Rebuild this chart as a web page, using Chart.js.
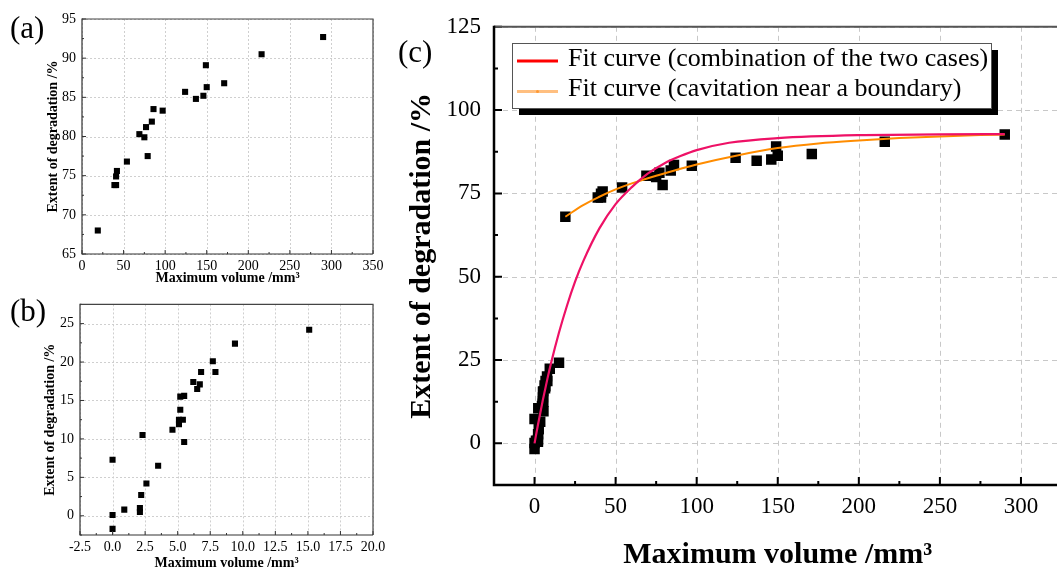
<!DOCTYPE html>
<html><head><meta charset="utf-8">
<script src="https://cdn.jsdelivr.net/npm/chart.js@4.4.0/dist/chart.umd.min.js"></script>
<style>
html,body{margin:0;padding:0;background:#fff;overflow:hidden;width:1057px;height:568px;position:relative}
.cv{position:absolute}
.lab{position:absolute;font-family:"Liberation Serif","Times New Roman",serif;font-size:31px;color:#000;line-height:1}
</style></head><body>
<div class="cv" style="left:0;top:0;width:390px;height:290px"><canvas id="ca"></canvas></div>
<div class="cv" style="left:0;top:290px;width:390px;height:290px"><canvas id="cb"></canvas></div>
<div class="cv" style="left:390px;top:0;width:680px;height:580px"><canvas id="cc"></canvas></div>
<div class="lab" style="left:10px;top:12px">(a)</div>
<div class="lab" style="left:10px;top:295px">(b)</div>
<div class="lab" style="left:398px;top:36px">(c)</div>
<script>
// ---------- data ----------
// (a) cavitation near a boundary
const aX = [19, 39, 41, 41, 42, 54, 69, 75, 77, 79, 84, 86, 97, 124, 137, 146, 149, 150, 171, 216, 290];
const aY = [68.0, 73.8, 73.8, 74.9, 75.6, 76.8, 80.3, 79.9, 81.2, 77.5, 81.9, 83.5, 83.3, 85.7, 84.8, 85.2, 89.1, 86.3, 86.8, 90.5, 92.7];
// (b) small volumes
const bX = [0.0, 0.0, 0.0, 0.9, 2.1, 2.1, 2.2, 2.3, 2.6, 3.5, 4.6, 5.1, 5.1, 5.4, 5.2, 5.2, 5.5, 5.5, 6.2, 6.7, 6.5, 6.8, 7.7, 7.9, 9.4, 15.1];
const bY = [-1.7, 0.1, 7.3, 0.8, 0.5, 1.0, 2.7, 10.5, 4.2, 6.5, 11.2, 11.9, 12.5, 12.5, 13.8, 15.5, 15.6, 9.6, 17.4, 17.1, 16.5, 18.7, 20.1, 18.7, 22.4, 24.2];
// (c) fit curves
const fitAllX = [0, 2, 5, 8, 10, 15, 20, 25, 30, 40, 50, 60, 70, 80, 90, 100, 120, 150, 200, 250, 290];
const fitAllY = [0, 5.3, 12.7, 19.5, 23.7, 33.1, 41.3, 48.5, 54.6, 64.5, 71.8, 76.9, 81.0, 84.0, 86.2, 88.0, 90.2, 91.6, 92.5, 92.7, 92.8];
const fitBndX = [19, 30, 40, 50, 60, 75, 90, 100, 125, 150, 175, 200, 225, 250, 275, 290];
const fitBndY = [68.0, 71.5, 74.0, 76.2, 78.0, 80.3, 82.4, 83.7, 86.4, 88.6, 90.0, 90.9, 91.6, 92.1, 92.5, 92.7];
const fitLabels = ['Fit curve (combination of the two cases)', 'Fit curve (cavitation near a boundary)'];
// tick labels
const aXTicks = [0, 50, 100, 150, 200, 250, 300, 350];
const aYTicks = [65, 70, 75, 80, 85, 90, 95];
const bXTicks = [-2.5, 0, 2.5, 5, 7.5, 10, 12.5, 15, 17.5, 20];
const bYTicks = [0, 5, 10, 15, 20, 25];
const cXTicks = [0, 50, 100, 150, 200, 250, 300];
const cYTicks = [0, 25, 50, 75, 100, 125];
const xTitle = 'Maximum volume /mm³';
const yTitle = 'Extent of degradation /%';

const FF = '"Liberation Serif","Times New Roman",serif';
const pts = (xs, ys) => xs.map((x, i) => ({x: x, y: ys[i]}));

// ---------- decoration plugin (grid, inward ticks, frame, legend) ----------
const deco = {
  id: 'deco',
  beforeDatasetsDraw(chart, args, o) {
    const {ctx, chartArea: a, scales: {x, y}} = chart;
    ctx.save();
    ctx.strokeStyle = o.gridColor; ctx.lineWidth = 1; ctx.setLineDash(o.gridDash);
    ctx.beginPath();
    o.xGrid.forEach(v => { const p = Math.round(x.getPixelForValue(v)) + 0.5; ctx.moveTo(p, a.top); ctx.lineTo(p, a.bottom); });
    o.yGrid.forEach(v => { const p = Math.round(y.getPixelForValue(v)) + 0.5; ctx.moveTo(a.left, p); ctx.lineTo(a.right, p); });
    ctx.stroke();
    ctx.restore();
  },
  afterDatasetsDraw(chart, args, o) {
    const {ctx, chartArea: a, scales: {x, y}} = chart;
    ctx.save();
    // ticks (inward)
    ctx.strokeStyle = o.tickColor; ctx.lineWidth = o.tickWidth; ctx.setLineDash([]);
    ctx.beginPath();
    for (let v = x.min; v <= x.max + 1e-9; v += o.xMinor) {
      const major = o.xGrid.some(g => Math.abs(g - v) < 1e-6);
      const p = x.getPixelForValue(v);
      ctx.moveTo(p, a.bottom); ctx.lineTo(p, a.bottom - (major ? o.majorLen : o.minorLen));
    }
    for (let v = y.min; v <= y.max + 1e-9; v += o.yMinor) {
      const major = o.yGrid.some(g => Math.abs(g - v) < 1e-6);
      const p = y.getPixelForValue(v);
      ctx.moveTo(a.left, p); ctx.lineTo(a.left + (major ? o.majorLen : o.minorLen), p);
    }
    ctx.stroke();
    // frame
    ctx.lineWidth = o.sideWidth; ctx.strokeStyle = o.sideColor;
    ctx.beginPath(); ctx.moveTo(a.left, a.top); ctx.lineTo(a.right, a.top); ctx.lineTo(a.right, a.bottom); ctx.stroke();
    ctx.lineWidth = o.axisWidth; ctx.strokeStyle = o.axisColor;
    ctx.beginPath(); ctx.moveTo(a.left, a.top - o.sideWidth / 2); ctx.lineTo(a.left, a.bottom); ctx.lineTo(a.right, a.bottom); ctx.stroke();
    // legend
    if (o.legend) {
      const L = o.legend;
      ctx.fillStyle = '#000';
      ctx.fillRect(L.x + L.shadow, L.y + L.shadow, L.w, L.h);
      ctx.fillStyle = '#fff';
      ctx.fillRect(L.x, L.y, L.w, L.h);
      ctx.strokeStyle = '#555'; ctx.lineWidth = 1;
      ctx.strokeRect(L.x + 0.5, L.y + 0.5, L.w, L.h);
      ctx.font = L.fontSize + 'px ' + FF;
      ctx.textBaseline = 'middle'; ctx.textAlign = 'left';
      L.items.forEach((it, i) => {
        const ds = chart.data.datasets[it.ds];
        ctx.strokeStyle = it.color; ctx.lineWidth = 3;
        ctx.beginPath(); ctx.moveTo(L.x + 5, it.ly); ctx.lineTo(L.x + 46, it.ly); ctx.stroke();
        if (it.dot) { ctx.fillStyle = it.dot; ctx.beginPath(); ctx.arc(L.x + 25.5, it.ly, 1.5, 0, Math.PI * 2); ctx.fill(); }
        ctx.fillStyle = '#000';
        ctx.fillText(ds.label, L.x + 56, it.ty);
      });
    }
    ctx.restore();
  }
};

function baseScales(cfg) {
  const setTicks = arr => s => { s.ticks = arr.map(v => ({value: v})); };
  return {
    x: {
      type: 'linear', min: cfg.xMin, max: cfg.xMax,
      afterBuildTicks: setTicks(cfg.xTicks),
      afterFit: s => { s.height = cfg.xH; },
      grid: {display: false, drawTicks: false}, border: {display: false},
      ticks: {font: {family: FF, size: cfg.tickSize}, color: '#000', padding: cfg.xPad, maxRotation: 0, autoSkip: false,
        callback: cfg.xFmt || (v => String(v))},
      title: {display: true, text: xTitle, color: '#000', font: {family: FF, size: cfg.xTitleSize, weight: 'bold'}, padding: {top: 0, bottom: cfg.xTitlePad}}
    },
    y: {
      type: 'linear', min: cfg.yMin, max: cfg.yMax,
      afterBuildTicks: setTicks(cfg.yTicks),
      afterFit: s => { s.width = cfg.yW; },
      grid: {display: false, drawTicks: false}, border: {display: false},
      ticks: {font: {family: FF, size: cfg.tickSize}, color: '#000', padding: cfg.yPad, autoSkip: false},
      title: {display: true, text: yTitle, color: '#000', font: {family: FF, size: cfg.yTitleSize, weight: 'bold'}, padding: {top: cfg.yTitlePad, bottom: 0}}
    }
  };
}

const common = {responsive: true, maintainAspectRatio: false, animation: false, events: []};

// (a)
new Chart(document.getElementById('ca'), {
  type: 'scatter',
  data: {datasets: [{data: pts(aX, aY), pointStyle: 'rect', pointRadius: 4.3, backgroundColor: '#000', borderWidth: 0}]},
  options: Object.assign({}, common, {
    layout: {padding: {left: 0, top: 19, right: 17, bottom: 0}},
    plugins: {legend: {display: false}, tooltip: {enabled: false},
      deco: {gridColor: '#cfcfcf', gridDash: [2, 2], xGrid: aXTicks, yGrid: aYTicks, xMinor: 25, yMinor: 2.5,
        majorLen: 4, minorLen: 2, tickColor: '#333', tickWidth: 1, sideColor: '#444', sideWidth: 1.2, axisColor: '#333', axisWidth: 1.2}},
    scales: baseScales({xMin: 0, xMax: 350, yMin: 65, yMax: 95, xTicks: aXTicks, yTicks: aYTicks, xH: 36, yW: 82,
      tickSize: 14, xTitleSize: 14, yTitleSize: 14, xPad: 4, yPad: 6, xTitlePad: 3.5, yTitlePad: 44.5})
  }),
  plugins: [deco]
});

// (b)
new Chart(document.getElementById('cb'), {
  type: 'scatter',
  data: {datasets: [{data: pts(bX, bY), pointStyle: 'rect', pointRadius: 4.3, backgroundColor: '#000', borderWidth: 0}]},
  options: Object.assign({}, common, {
    layout: {padding: {left: 0, top: 9, right: 17, bottom: 0}},
    plugins: {legend: {display: false}, tooltip: {enabled: false},
      deco: {gridColor: '#cfcfcf', gridDash: [2, 2], xGrid: bXTicks, yGrid: bYTicks, xMinor: 1.25, yMinor: 2.5,
        majorLen: 4, minorLen: 2, tickColor: '#333', tickWidth: 1, sideColor: '#444', sideWidth: 1.2, axisColor: '#333', axisWidth: 1.2}},
    scales: baseScales({xMin: -2.5, xMax: 20, yMin: -2.5, yMax: 27.5, xTicks: bXTicks, yTicks: bYTicks, xH: 45, yW: 80,
      tickSize: 14, xTitleSize: 14, yTitleSize: 14, xPad: 3.5, yPad: 6, xTitlePad: 8.5, yTitlePad: 42, xFmt: v => v.toFixed(1)})
  }),
  plugins: [deco]
});

// (c)
new Chart(document.getElementById('cc'), {
  type: 'scatter',
  data: {datasets: [
    {type: 'line', label: fitLabels[0], data: pts(fitAllX, fitAllY), borderColor: '#ee1166', borderWidth: 2.2, pointRadius: 0, showLine: true, cubicInterpolationMode: 'monotone', fill: false, order: 0},
    {type: 'line', label: fitLabels[1], data: pts(fitBndX, fitBndY), borderColor: '#ff8c00', borderWidth: 2, pointRadius: 0, showLine: true, cubicInterpolationMode: 'monotone', fill: false, order: 1},
    {type: 'scatter', label: 'data', data: pts(aX.concat(bX), aY.concat(bY)), pointStyle: 'rect', pointRadius: 7.4, backgroundColor: '#000', borderWidth: 0, order: 2}
  ]},
  options: Object.assign({}, common, {
    layout: {padding: {left: 0, top: 24, right: 8.5, bottom: 0}},
    plugins: {legend: {display: false}, tooltip: {enabled: false},
      deco: {gridColor: '#c8c8c8', gridDash: [5, 4], xGrid: cXTicks, yGrid: cYTicks, xMinor: 25, yMinor: 12.5,
        majorLen: 8, minorLen: 4, tickColor: '#000', tickWidth: 2, sideColor: '#555', sideWidth: 2, axisColor: '#000', axisWidth: 2.5,
        legend: {x: 122, y: 43, w: 479, h: 65, shadow: 7, fontSize: 26,
          items: [{ds: 0, color: '#ff0000', ly: 61, ty: 59}, {ds: 1, color: '#ffbf80', dot: '#ff9933', ly: 91.5, ty: 89}]}}},
    scales: baseScales({xMin: -25, xMax: 325, yMin: -12.5, yMax: 125, xTicks: cXTicks, yTicks: cYTicks, xH: 95, yW: 104,
      tickSize: 23, xTitleSize: 30, yTitleSize: 30, xPad: 8, yPad: 13, xTitlePad: 7, yTitlePad: 14})
  }),
  plugins: [deco]
});
</script>
</body></html>
